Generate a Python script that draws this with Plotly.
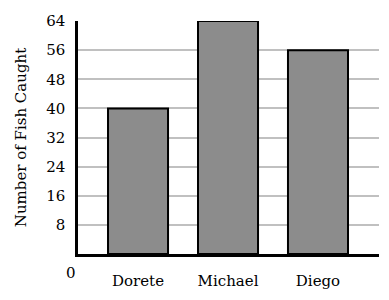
import plotly.graph_objects as go

categories = ["Dorete", "Michael", "Diego"]
fish_caught = [40, 64, 56]
y_ticks = [8, 16, 24, 32, 40, 48, 56, 64]

FONT = "DejaVu Serif"

fig = go.Figure()
fig.add_trace(go.Bar(
    x=categories, y=fish_caught,
    width=0.667,
    marker=dict(color="#8c8c8c", line=dict(color="black", width=2)),
))

fig.update_layout(
    width=389, height=300,
    margin=dict(l=78, r=10, t=21, b=39),
    paper_bgcolor="white", plot_bgcolor="white",
    showlegend=False,
    font=dict(family=FONT, size=15, color="black"),
    xaxis=dict(
        range=[-0.667, 2.678],
        showline=True, linecolor="black", linewidth=2.5,
        showgrid=False, zeroline=False,
        ticks="", ticklabelstandoff=11,
        tickfont=dict(family=FONT, size=15),
    ),
    yaxis=dict(
        range=[0, 64],
        tickvals=y_ticks,
        showline=True, linecolor="black", linewidth=2.5,
        showgrid=True, gridcolor="#c0c0c0", gridwidth=2,
        zeroline=False, ticks="",
        ticklabelstandoff=7,
        tickfont=dict(family=FONT, size=15),
        title=dict(text="Number of Fish Caught", font=dict(family=FONT, size=15), standoff=16),
    ),
    annotations=[dict(
        text="0", xref="paper", x=0, xanchor="right", xshift=0,
        yref="y", y=0, yanchor="top", yshift=-8, showarrow=False,
        font=dict(family=FONT, size=15),
    )],
)

fig.write_html("out.html")
